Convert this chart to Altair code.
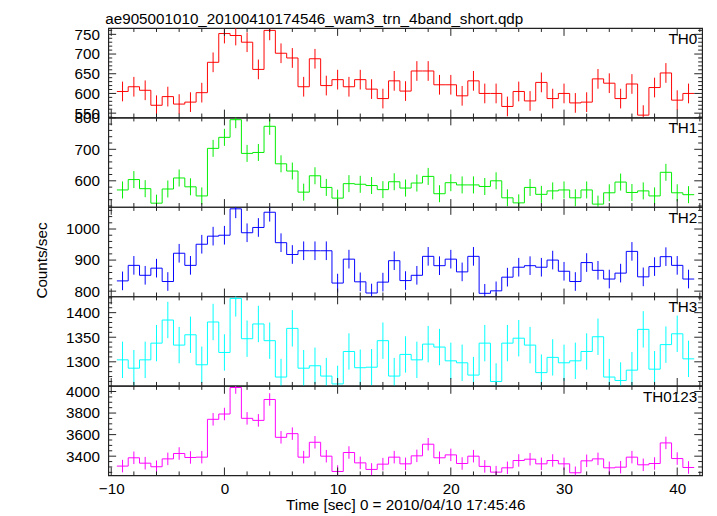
import altair as alt
import pandas as pd

centers = list(range(-9, 42))
names = ["TH0", "TH1", "TH2", "TH3", "TH0123"]
colors = ["#ff0000", "#00ee00", "#0000ff", "#00ffff", "#ff00ff"]

th0 = [605, 617, 608, 570, 592, 573, 578, 602, 679, 752, 747, 730, 661, 760, 702, 690, 617, 688, 620, 635, 617, 635, 611, 587,
       632, 606, 657, 657, 622, 622, 594, 632, 600, 600, 567, 605, 581, 628, 587, 600, 576, 578, 637, 626, 587, 624, 545, 615, 652, 583, 600]
th1 = [571, 604, 575, 529, 574, 609, 581, 552, 703, 738, 794, 687, 690, 773, 654, 631, 564, 616, 579, 545, 591, 589, 585, 572,
       597, 577, 593, 614, 559, 594, 587, 587, 582, 600, 546, 530, 579, 557, 568, 571, 546, 571, 526, 562, 596, 563, 568, 552, 627, 562, 556]
th2 = [833, 883, 851, 874, 831, 922, 883, 951, 977, 980, 1065, 988, 1005, 1054, 956, 918, 930, 930, 930, 826, 903, 830, 794, 829,
       898, 834, 851, 912, 882, 903, 862, 912, 793, 801, 845, 877, 882, 877, 900, 864, 831, 892, 867, 839, 858, 928, 846, 879, 911, 883, 839]
th3 = [1304, 1287, 1304, 1338, 1385, 1334, 1355, 1294, 1381, 1319, 1429, 1347, 1377, 1343, 1269, 1368, 1287, 1292, 1271, 1255, 1321, 1288, 1289, 1343,
       1271, 1315, 1304, 1336, 1330, 1302, 1298, 1273, 1338, 1260, 1338, 1348, 1334, 1278, 1309, 1298, 1302, 1321, 1351, 1269, 1262, 1283, 1366, 1285, 1335, 1357, 1306]
th0123 = [3308, 3385, 3335, 3302, 3375, 3425, 3388, 3391, 3742, 3791, 4037, 3751, 3732, 3926, 3575, 3609, 3391, 3529, 3400, 3258, 3434, 3338, 3277, 3326,
          3391, 3329, 3403, 3511, 3385, 3412, 3332, 3400, 3305, 3252, 3292, 3360, 3372, 3329, 3360, 3329, 3246, 3357, 3375, 3292, 3298, 3391, 3320, 3332, 3523, 3378, 3295]
series = [th0, th1, th2, th3, th0123]
errors = [25, 27, 30, 37, 58]

y_domains = [[539, 766], [517, 801], [783, 1071], [1251, 1433], [3222, 4052]]
y_labels = [[550, 600, 650, 700, 750], [600, 700, 800], [800, 900, 1000], [1300, 1350, 1400], [3400, 3600, 3800, 4000]]
y_minor_step = [10, 20, 20, 10, 50]
x_domain = [-10.26, 42.2]
x_labels = [-10, 0, 10, 20, 30, 40]
x_minor = list(range(-10, 43, 2))

W, H = 604, 91
FONT = "Liberation Sans"
FS = 15.5


def panel(i):
    vals = series[i]
    err = errors[i]
    color = colors[i]
    bottom = i == 4
    xs = alt.Scale(domain=x_domain, nice=False, zero=False)
    ys = alt.Scale(domain=y_domains[i], nice=False, zero=False)
    edges = [c - 0.5 for c in centers] + [centers[-1] + 0.5]
    step_df = pd.DataFrame({"t": edges, "v": vals + [vals[-1]]})
    err_df = pd.DataFrame({"t": centers, "lo": [v - err for v in vals], "hi": [v + err for v in vals]})

    if bottom:
        xaxis = alt.Axis(values=x_labels, ticks=False, domain=False, grid=False, labelFlush=False,
                         labelOverlap=False, format="d",
                         labelPadding=6, labelFontSize=FS, labelFont=FONT, labelColor="black",
                         title="Time [sec] 0 = 2010/04/10 17:45:46", titleFontSize=FS, titleFont=FONT,
                         titleFontWeight="normal", titleColor="black", titlePadding=1)
    else:
        xaxis = None
    if i == 2:
        yaxis = alt.Axis(values=y_labels[i], ticks=False, domain=False, grid=False, labelFlush=False,
                         labelPadding=9, labelFontSize=FS, labelFont=FONT, labelColor="black",
                         labelOverlap=False, format="d",
                         title="Counts/sec", titleFontSize=FS, titleFont=FONT, titleY=54,
                         titleFontWeight="normal", titleColor="black", titlePadding=16)
    else:
        yaxis = alt.Axis(values=y_labels[i], ticks=False, domain=False, grid=False, labelFlush=False,
                         labelPadding=9, labelFontSize=FS, labelFont=FONT, labelColor="black",
                         labelOverlap=False, format="d", title=None)

    X = lambda f: alt.X(f, scale=xs, axis=xaxis)
    Y = lambda f: alt.Y(f, scale=ys, axis=yaxis)

    step = alt.Chart(step_df).mark_line(interpolate="step-after", color=color, strokeWidth=1, clip=True).encode(
        x=X("t:Q"), y=Y("v:Q"),
    )
    bars = alt.Chart(err_df).mark_rule(color=color, strokeWidth=1, clip=True).encode(
        x=X("t:Q"), y=Y("lo:Q"), y2="hi:Q"
    )

    lo, hi = y_domains[i]
    st = y_minor_step[i]
    start = (int(lo) // st + 1) * st
    ymin = [v for v in range(start, int(hi) + 1, st) if v not in y_labels[i]]
    ymaj = pd.DataFrame({"t": y_labels[i]})
    ymn = pd.DataFrame({"t": ymin})
    xmaj = pd.DataFrame({"t": x_labels})
    xmn = pd.DataFrame({"t": [v for v in x_minor if v not in x_labels]})

    tk = dict(color="#222222", strokeWidth=1)
    layers = [step, bars]
    for df, L in [(ymaj, 8), (ymn, 4)]:
        layers.append(alt.Chart(df).mark_rule(**tk).encode(y=Y("t:Q"), x=alt.value(0), x2=alt.value(L)))
        layers.append(alt.Chart(df).mark_rule(**tk).encode(y=Y("t:Q"), x=alt.value(W), x2=alt.value(W - L)))
    for df, L in [(xmaj, 8), (xmn, 4)]:
        layers.append(alt.Chart(df).mark_rule(**tk).encode(x=X("t:Q"), y=alt.value(0), y2=alt.value(L)))
        layers.append(alt.Chart(df).mark_rule(**tk).encode(x=X("t:Q"), y=alt.value(H), y2=alt.value(H - L)))

    label = alt.Chart(pd.DataFrame({"n": [names[i]]})).mark_text(
        align="right", baseline="top", fontSize=FS, font=FONT, color="black"
    ).encode(text="n:N", x=alt.value(W - 5), y=alt.value(4))
    layers.append(label)

    return alt.layer(*layers).properties(width=W, height=H)


chart = alt.vconcat(*[panel(i) for i in range(5)], spacing=0, bounds="flush").properties(
    title=alt.TitleParams("ae905001010_20100410174546_wam3_trn_4band_short.qdp", anchor="start",
                          fontSize=FS, font=FONT, fontWeight="normal", color="black", offset=-1, dx=72),
    padding={"left": 26, "top": 0, "right": 5, "bottom": 0},
).configure_view(stroke="#222222", strokeWidth=1.2).configure_concat(spacing=0)

chart.save("out.html", embed_options={"renderer": "svg", "actions": False})
